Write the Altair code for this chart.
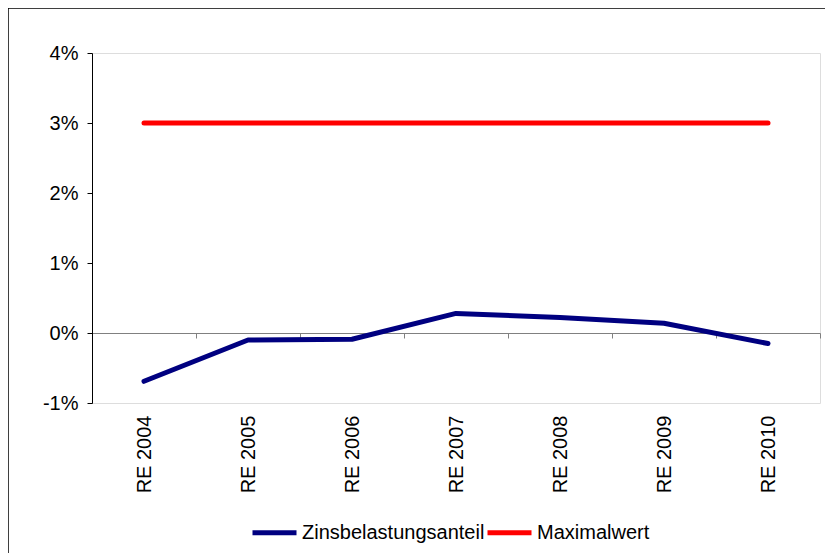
import altair as alt
import pandas as pd

years = ["RE 2004", "RE 2005", "RE 2006", "RE 2007", "RE 2008", "RE 2009", "RE 2010"]
zins = [-0.0069, -0.0010, -0.0009, 0.0028, 0.0022, 0.0014, -0.0015]
maxw = [0.03, 0.03, 0.03, 0.03, 0.03, 0.03, 0.03]
series = ["Zinsbelastungsanteil", "Maximalwert"]
colors = ["#000080", "#FF0000"]

rows = []
for y, v in zip(years, zins):
    rows.append({"Jahr": y, "Wert": v, "Serie": series[0]})
for y, v in zip(years, maxw):
    rows.append({"Jahr": y, "Wert": v, "Serie": series[1]})
df = pd.DataFrame(rows)

FONT = "Liberation Sans"
FS = 20
W, H = 728, 350

lines = alt.Chart(df).mark_line(strokeWidth=5, strokeCap="round", strokeJoin="round").encode(
    x=alt.X("Jahr:N", sort=years, title=None,
            scale=alt.Scale(paddingInner=0, paddingOuter=0),
            axis=alt.Axis(orient="bottom", offset=-70, labelAngle=-90, labelPadding=77,
                          tickBand="extent", tickSize=5, tickColor="#808080",
                          domainColor="#808080", labelFont=FONT, labelFontSize=FS,
                          labelColor="#000000", grid=False)),
    y=alt.Y("Wert:Q", title=None,
            scale=alt.Scale(domain=[-0.01, 0.04], nice=False, zero=False),
            axis=alt.Axis(values=[-0.01, 0, 0.01, 0.02, 0.03, 0.04], format=".0%",
                          labelExpr="replace(datum.label, '\u2212', '-')",
                          tickSize=5, tickColor="#000000", domainColor="#000000",
                          labelPadding=9, labelFont=FONT, labelFontSize=FS,
                          labelColor="#000000", grid=False)),
    color=alt.Color("Serie:N", sort=series,
                    scale=alt.Scale(domain=series, range=colors),
                    legend=alt.Legend(title=None, orient="none", legendX=158, legendY=455,
                                      direction="horizontal", symbolType="stroke",
                                      symbolSize=1936, symbolStrokeWidth=5,
                                      labelFont=FONT, labelFontSize=FS, labelColor="#000000",
                                      labelLimit=400, labelOffset=3, columnPadding=-20)),
)

frame = alt.Chart(pd.DataFrame({"a": [0]})).mark_rect(
    fill=None, stroke="#000000", strokeWidth=1.5, clip=False
).encode(
    x=alt.value(-84), x2=alt.value(780), y=alt.value(-45), y2=alt.value(540)
)

chart = alt.layer(frame, lines).properties(
    width=W, height=H,
    autosize=alt.AutoSizeParams(type="none"),
    padding={"left": 84, "top": 45, "right": 5, "bottom": 150},
).configure_view(stroke=None).configure(background="#ffffff")

chart.save("out.html", embed_options={"renderer": "svg", "actions": False})
